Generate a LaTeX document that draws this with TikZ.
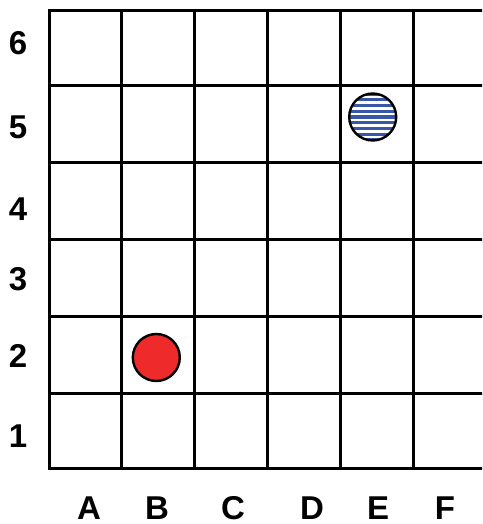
\documentclass[tikz,border=0pt]{standalone}
\usepackage{fontspec}
\setmainfont{Liberation Sans}
\definecolor{chipred}{HTML}{EE2A2A}
\definecolor{chipblue}{HTML}{3A56A6}
\begin{document}
\begin{tikzpicture}[x=1pt,y=-1pt,
  gridline/.style={line width=3pt,black},
  lbl/.style={font=\fontsize{33}{33}\selectfont\bfseries,inner sep=0pt,anchor=center},
  chip/.style={line width=2.4pt,draw=black}]
\useasboundingbox (0,0) rectangle (482,524);
\begin{scope}
\clip (0,0) rectangle (482,524);
% horizontal lines
\foreach \y in {10.5,86,162,239,316,393,468}
  \draw[gridline] (47.8,\y) -- (490,\y);
% vertical lines
\foreach \x in {49.3,121.7,194.7,267.7,340.7,413.5}
  \draw[gridline] (\x,9) -- (\x,469.5);
\end{scope}
% row labels
\node[lbl] (r6) at (18,43) {6};
\node[lbl] (r5) at (18,127) {5};
\node[lbl] (r4) at (18,209) {4};
\node[lbl] (r3) at (18,279) {3};
\node[lbl] (r2) at (18,356) {2};
\node[lbl] (r1) at (18,436) {1};
% column labels
\node[lbl] (cA) at (89,508) {A};
\node[lbl] (cB) at (157,508) {B};
\node[lbl] (cC) at (233,508) {C};
\node[lbl] (cD) at (312,508) {D};
\node[lbl] (cE) at (378,508) {E};
\node[lbl] (cF) at (445,508) {F};
% red chip
\fill[chipred] (156.3,357.5) circle (23.5);
\draw[chip] (156.3,357.5) circle (23.5);
% striped blue chip
\begin{scope}
\clip (372.7,117) circle (23.5);
\fill[white] (372.7,117) circle (23.5);
\foreach \k in {-4,...,4}
  \draw[chipblue,line width=3pt] (345,117+5.7*\k) -- (400,117+5.7*\k);
\end{scope}
\draw[chip] (372.7,117) circle (23.5);
\end{tikzpicture}
\end{document}
